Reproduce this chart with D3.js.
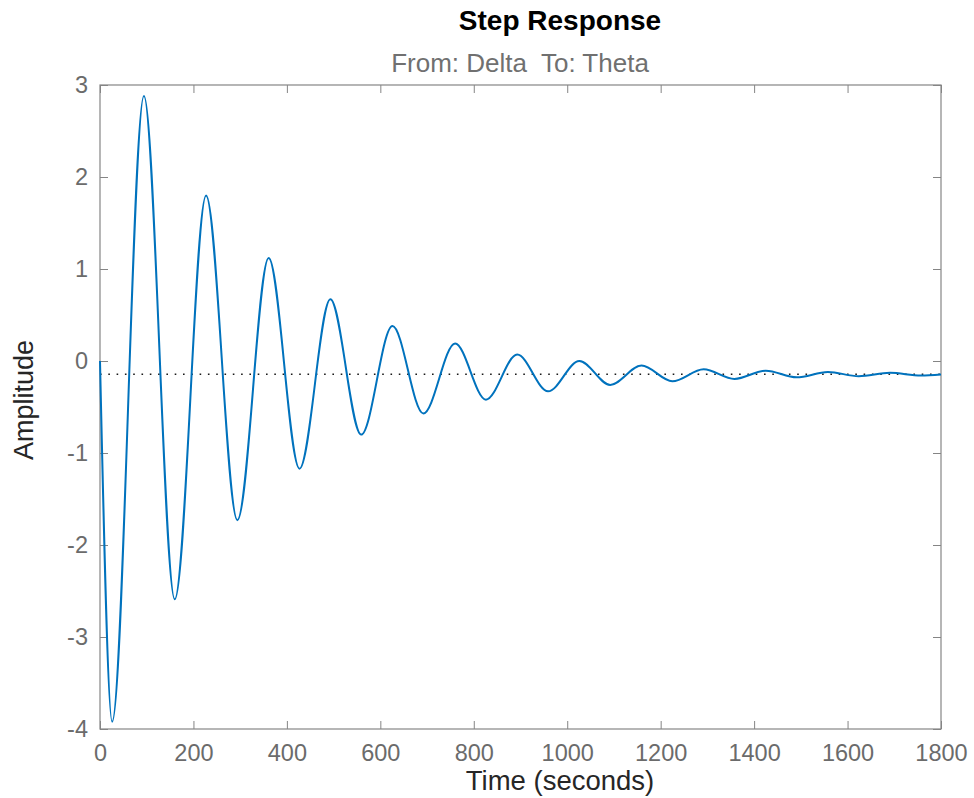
<!DOCTYPE html>
<html>
<head>
<meta charset="utf-8">
<script src="https://cdn.jsdelivr.net/npm/d3@7"></script>
<style>
  html, body { margin: 0; padding: 0; background: #ffffff; }
  svg { display: block; font-family: "Liberation Sans", Arial, Helvetica, sans-serif; }
</style>
</head>
<body>
<svg id="chart" width="974" height="798"></svg>
<script>
// Step response extrema (time in seconds, amplitude)
const timeValues = [0, 26, 94, 160, 227, 294, 361, 427, 493, 559, 626, 692, 760, 826, 893, 959,
  1026, 1092, 1159, 1225, 1292, 1358, 1425, 1491, 1558, 1624, 1691, 1757, 1800];
const amplitudeValues = [0, -3.92, 2.88, -2.59, 1.80, -1.73, 1.12, -1.17, 0.67, -0.80, 0.38, -0.57,
  0.19, -0.42, 0.07, -0.33, 0.0, -0.26, -0.05, -0.22, -0.09, -0.195, -0.105, -0.177, -0.12,
  -0.165, -0.128, -0.158, -0.147];
const steadyState = -0.145;

const xTicks = [0, 200, 400, 600, 800, 1000, 1200, 1400, 1600, 1800];
const yTicks = [-4, -3, -2, -1, 0, 1, 2, 3];
const xDomain = [0, 1800];
const yDomain = [-4, 3];

const titleText = "Step Response";
const subtitleText = "From: Delta  To: Theta";
const xLabelText = "Time (seconds)";
const yLabelText = "Amplitude";

const svg = d3.select("#chart");
const plot = { left: 100, right: 941, top: 85, bottom: 729 };

const x = d3.scaleLinear().domain(xDomain).range([plot.left, plot.right]);
const y = d3.scaleLinear().domain(yDomain).range([plot.bottom, plot.top]);

const axisColor = "#858585";
const tickTextColor = "#6b6b6b";

// Bottom axis with labels, ticks pointing inward
const gx = svg.append("g")
  .attr("transform", `translate(0,${plot.bottom})`)
  .call(d3.axisBottom(x).tickValues(xTicks).tickSizeInner(-8).tickSizeOuter(0)
    .tickPadding(15).tickFormat(d => String(d)));
// Top axis, ticks only
const gxt = svg.append("g")
  .attr("transform", `translate(0,${plot.top})`)
  .call(d3.axisTop(x).tickValues(xTicks).tickSizeInner(-8).tickSizeOuter(0).tickFormat(""));
// Left axis with labels
const gy = svg.append("g")
  .attr("transform", `translate(${plot.left},0)`)
  .call(d3.axisLeft(y).tickValues(yTicks).tickSizeInner(-8).tickSizeOuter(0)
    .tickPadding(12).tickFormat(d => String(d)));
// Right axis, ticks only
const gyr = svg.append("g")
  .attr("transform", `translate(${plot.right},0)`)
  .call(d3.axisRight(y).tickValues(yTicks).tickSizeInner(-8).tickSizeOuter(0).tickFormat(""));

[gx, gxt, gy, gyr].forEach(g => {
  g.select(".domain").remove();
  g.selectAll(".tick line").attr("stroke", axisColor).attr("stroke-width", 1);
  g.selectAll(".tick text").attr("fill", tickTextColor).attr("font-size", 23.5)
    .attr("font-family", "Liberation Sans, Arial, sans-serif");
});

// Axes box
svg.append("rect")
  .attr("x", plot.left).attr("y", plot.top)
  .attr("width", plot.right - plot.left).attr("height", plot.bottom - plot.top)
  .attr("fill", "none").attr("stroke", axisColor).attr("stroke-width", 1.2);

// Steady-state reference line
svg.append("line")
  .attr("x1", x(xDomain[0])).attr("x2", x(xDomain[1]))
  .attr("y1", y(steadyState)).attr("y2", y(steadyState))
  .attr("stroke", "#1a1a1a").attr("stroke-width", 1.5)
  .attr("stroke-dasharray", "1.6,6.7");

// Response curve
const points = timeValues.map((t, i) => [t, amplitudeValues[i]]);
const line = d3.line()
  .x(d => x(d[0]))
  .y(d => y(d[1]))
  .curve(d3.curveMonotoneX);

svg.append("path")
  .datum(points)
  .attr("d", line)
  .attr("fill", "none")
  .attr("stroke", "#0072BD")
  .attr("stroke-width", 2)
  .attr("stroke-linejoin", "round");

// Titles and axis labels
svg.append("text")
  .attr("x", 560).attr("y", 30)
  .attr("text-anchor", "middle")
  .attr("font-size", 28).attr("font-weight", "bold").attr("fill", "#000")
  .text(titleText);

svg.append("text")
  .attr("x", 520).attr("y", 72)
  .attr("text-anchor", "middle")
  .attr("font-size", 26).attr("fill", "#707070")
  .style("white-space", "pre")
  .text(subtitleText);

svg.append("text")
  .attr("x", 560).attr("y", 790)
  .attr("text-anchor", "middle")
  .attr("font-size", 27.5).attr("fill", "#262626")
  .text(xLabelText);

svg.append("text")
  .attr("transform", `translate(33,400) rotate(-90)`)
  .attr("text-anchor", "middle")
  .attr("font-size", 27).attr("fill", "#262626")
  .text(yLabelText);
</script>
</body>
</html>
